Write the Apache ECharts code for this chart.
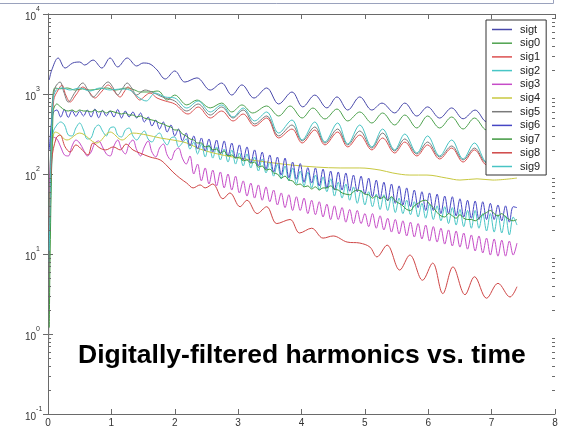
<!DOCTYPE html>
<html><head><meta charset="utf-8">
<script src="https://cdn.jsdelivr.net/npm/echarts@6/dist/echarts.min.js"></script>
<style>html,body{margin:0;padding:0;background:#fff}#c{width:561px;height:431px}</style>
</head><body><div id="c"></div>
<script>
// ---- data ----
const seriesNames = ['sigt','sig0','sig1','sig2','sig3','sig4','sig5','sig6','sig7','sig8','sig9'];
const xTicks = [0,1,2,3,4,5,6,7,8];
const yTicks = [0.1,1,10,100,1000,10000];
const titleText = 'Digitally-filtered harmonics vs. time';

const sigtData = [[0.02,1500],[0.06,2000],[0.16,2820],[0.27,2110],[0.39,2440],[0.5,2510],[0.58,2300],[0.71,2660],[0.85,2110],[0.98,2820],[1.1,2180],[1.25,2820],[1.4,2240],[1.5,2440],[1.61,2370],[1.72,2000],[1.85,1540],[2.0,1940],[2.16,1410],[2.35,1590],[2.56,1120],[2.74,1370],[2.9,970],[3.06,1300],[3.25,890],[3.45,1190],[3.64,750],[3.85,1060],[4.02,690],[4.21,970],[4.4,670],[4.56,920],[4.73,630],[4.92,920],[5.11,630],[5.27,770],[5.47,580],[5.63,770],[5.82,530],[5.99,690],[6.18,500],[6.37,670],[6.55,490],[6.74,630],[6.92,450],[7.1,600],[7.26,420],[7.4,560]];

const sig0Data = [[0.02,40],[0.05,320],[0.08,1000],[0.11,1190],[0.19,1160],[0.3,1190],[0.43,1120],[0.55,1160],[0.66,1120],[0.82,1160],[0.93,1190],[1.06,1120],[1.25,1190],[1.37,1120],[1.45,1060],[1.61,1060],[1.72,1090],[1.77,1060],[1.88,840],[2.0,970],[2.19,730],[2.35,840],[2.56,670],[2.74,770],[2.9,596],[3.06,730],[3.23,579],[3.45,708],[3.64,531],[3.82,708],[4.01,501],[4.18,668],[4.37,487],[4.56,649],[4.73,460],[4.92,596],[5.11,434],[5.28,579],[5.47,410],[5.63,546],[5.82,376],[5.99,531],[6.18,376],[6.37,516],[6.55,365],[6.73,501],[6.92,355],[7.1,473],[7.26,335],[7.4,447]];

const sig1Data = [[0.02,30],[0.05,200],[0.09,841],[0.16,1122],[0.22,1296],[0.28,972],[0.35,794],[0.44,972],[0.55,1223],[0.65,1059],[0.74,891],[0.84,1059],[0.95,1296],[1.04,1090],[1.14,917],[1.2,1059],[1.26,1223],[1.36,1000],[1.45,841],[1.53,944],[1.61,1029],[1.72,891],[1.85,818],[2.0,750],[2.21,562],[2.37,688],[2.56,501],[2.74,613],[2.92,460],[3.08,562],[3.26,398],[3.45,501],[3.64,282],[3.85,365],[4.01,244],[4.21,355],[4.37,231],[4.57,335],[4.73,218],[4.92,307],[5.11,200],[5.28,282],[5.47,183],[5.63,251],[5.82,168],[5.99,231],[6.18,154],[6.37,211],[6.55,141],[6.73,200],[6.92,130],[7.1,183],[7.26,119],[7.4,158]];

const sig4Data = [[0.03,41],[0.06,200],[0.11,335],[0.16,325],[0.3,266],[0.5,325],[0.77,244],[0.98,335],[1.17,266],[1.34,325],[1.56,307],[1.77,282],[1.97,266],[2.19,244],[2.4,205],[2.65,180],[2.92,163],[3.15,152],[3.45,141],[3.82,130],[4.24,122],[4.61,119],[4.92,119],[5.24,112],[5.44,103],[5.71,97],[5.98,97],[6.29,89],[6.5,84],[6.77,87],[7.02,84],[7.4,89]];

const sig5Data = [[0.01,0.8],[0.03,47],[0.06,631],[0.11,1189],[0.19,1413],[0.25,1059],[0.32,794],[0.43,1059],[0.55,1372],[0.63,1122],[0.71,917],[0.82,1122],[0.95,1413],[1.03,1189],[1.1,972],[1.18,1189],[1.25,1372],[1.32,1189],[1.4,972],[1.53,1122],[1.64,1059],[1.77,944],[1.85,891],[2.0,818],[2.19,613],[2.37,750],[2.56,546],[2.74,688],[2.92,501],[3.08,631],[3.26,422],[3.45,531],[3.64,299],[3.85,410],[4.01,259],[4.21,387],[4.37,244],[4.57,365],[4.73,231],[4.92,345],[5.11,211],[5.28,325],[5.47,194],[5.63,274],[5.82,178],[5.99,251],[6.18,163],[6.37,224],[6.55,150],[6.73,211],[6.92,137],[7.1,194],[7.26,126],[7.4,168]];

const sig8Data = [[0.02,20],[0.06,150],[0.13,282],[0.19,307],[0.27,218],[0.35,188],[0.44,231],[0.54,200],[0.63,173],[0.71,244],[0.82,211],[0.91,200],[1.03,218],[1.14,200],[1.23,237],[1.34,200],[1.45,183],[1.61,163],[1.77,150],[1.88,126],[1.97,106],[2.08,89],[2.19,77],[2.29,67],[2.4,73],[2.48,67],[2.6,75],[2.76,49],[2.87,58],[3.03,39],[3.14,47],[3.3,32],[3.45,39],[3.61,24],[3.82,27],[3.97,18.3],[4.16,21],[4.34,15.8],[4.5,16.8],[4.72,14.1],[4.92,13.7],[5.08,12.2],[5.19,9.2],[5.35,12.9],[5.55,6.3],[5.71,9.7],[5.91,4.7],[6.07,7.7],[6.23,3.2],[6.39,6.9],[6.58,3.1],[6.73,5.2],[6.92,2.8],[7.1,4.3],[7.29,2.9],[7.4,3.9]];

const sig9Data = [[0.02,11],[0.05,200],[0.08,841],[0.13,1122],[0.22,1189],[0.35,1122],[0.5,1189],[0.66,1090],[0.82,1189],[0.98,1122],[1.14,1155],[1.29,1122],[1.42,917],[1.55,818],[1.69,1029],[1.85,917],[2.0,891],[2.19,668],[2.37,818],[2.56,596],[2.74,729],[2.92,516],[3.08,668],[3.26,460],[3.45,596],[3.64,325],[3.85,473],[4.01,266],[4.21,447],[4.37,251],[4.57,434],[4.73,237],[4.92,410],[5.11,218],[5.28,365],[5.47,200],[5.63,316],[5.82,183],[5.99,299],[6.18,168],[6.37,266],[6.55,154],[6.73,244],[6.92,141],[7.1,224],[7.26,130],[7.4,188]];

// shared time samples for the fast-oscillating harmonics
const tFast = [0.02,0.08,0.14,0.20,0.26,0.32,0.38,0.44,0.50,0.56,
0.62,0.68,0.74,0.80,0.86,0.92,0.98,1.04,1.10,1.16,
1.22,1.28,1.34,1.40,1.46,1.52,1.58,1.64,1.70,1.76,
1.82,1.88,1.94,2.00,2.06,2.12,2.18,2.24,2.30,2.36,
2.42,2.48,2.54,2.60,2.66,2.72,2.78,2.84,2.90,2.96,
3.02,3.08,3.14,3.20,3.26,3.32,3.38,3.44,3.50,3.56,
3.62,3.68,3.74,3.80,3.86,3.92,3.98,4.04,4.10,4.16,
4.22,4.28,4.34,4.40,4.46,4.52,4.58,4.64,4.70,4.76,
4.82,4.88,4.94,5.00,5.06,5.12,5.18,5.24,5.30,5.36,
5.42,5.48,5.54,5.60,5.66,5.72,5.78,5.84,5.90,5.96,
6.02,6.08,6.14,6.20,6.26,6.32,6.38,6.44,6.50,6.56,
6.62,6.68,6.74,6.80,6.86,6.92,6.98,7.04,7.10,7.16,
7.22,7.28,7.34,7.40];

const sig2Vals = [8,325,410,447,410,307,299,376,434,355,
274,282,376,410,345,299,376,387,307,290,
355,376,299,266,307,345,274,251,299,325,
266,231,282,290,218,244,274,205,251,178,
237,163,231,158,218,150,205,141,200,133,
183,126,178,119,163,109,154,103,141,94,
133,87,126,82,119,75,109,71,106,67,
97,63,92,60,87,53,79,50,75,47,
69,43,63,41,60,39,56,36,55,35,
52,33,50,32,47,31,45,29,43,28,
42,27,40,26,39,24,38,23,36,22,
35,21,35,21,32,19.4,32,18.8,31,18.3,
30,17.3,29,23];

const sig3Vals = [60,290,274,218,173,168,224,266,244,200,
168,188,244,259,218,178,168,224,266,205,
178,237,266,200,168,218,259,188,163,211,
237,173,150,194,211,158,133,168,100,133,
82,119,75,112,71,106,67,100,63,94,
58,82,53,77,50,73,47,69,45,63,
41,58,38,55,35,52,35,50,32,47,
31,45,29,42,27,40,27,38,25,36,
24,35,24,32,22,32,21,30,20,28,
18.8,27,17.8,26,16.8,25,16.3,24,15.4,23,
14.5,22,14.1,21,13.3,20,12.6,19.4,12.2,18.3,
11.5,17.3,10.9,16.8,10.3,15.8,9.7,15.4,9.4,14.9,
9.4,14.5,9.7,13.7];

const sig6Vals = [200,579,631,516,640,510,620,525,613,531,
631,516,649,505,625,531,613,516,640,501,
613,516,596,501,579,447,516,398,473,365,
447,335,410,299,365,259,325,224,299,205,
282,194,274,188,266,178,259,168,244,158,
231,150,218,137,200,126,188,115,173,106,
163,97,158,90,141,86,135,79,120,77,
119,71,115,67,109,63,106,63,103,61,
97,60,94,56,89,52,84,49,79,46,
75,43,71,41,67,39,63,38,60,35,
58,35,56,32,53,32,52,30,49,29,
47,28,46,27,45,27,43,27,41,26,
40,25,39,38];

const sig7Vals = [1.2,596,750,688,631,613,631,596,631,613,
613,596,631,596,613,579,613,596,579,562,
579,546,546,516,531,501,487,473,460,434,
422,398,387,355,355,316,299,274,266,244,
244,218,224,200,205,183,194,168,173,158,
163,146,150,137,141,122,126,112,115,103,
100,89,94,84,82,73,75,69,71,65,
69,63,67,67,71,65,63,58,56,55,
60,63,61,56,55,50,53,49,52,47,
52,46,43,40,36,35,40,43,46,47,
42,38,33,30,29,32,30,28,31,28,
27,27,26,28,31,33,35,32,30,32,
29,27,26,27];

// ---- styles ----
const colors = ['#4848aa','#4ea24e','#dc5050','#48c6c6','#c64cc8','#c8c840','#7a7a7a','#4646c4','#3f983f','#cf4646','#48c4c4'];

const seriesData = [
  sigtData, sig0Data, sig1Data,
  tFast.map((t,i)=>[t,sig2Vals[i]]),
  tFast.map((t,i)=>[t,sig3Vals[i]]),
  sig4Data, sig5Data,
  tFast.map((t,i)=>[t,sig6Vals[i]]),
  tFast.map((t,i)=>[t,sig7Vals[i]]),
  sig8Data, sig9Data
];

const FONT = 'Liberation Sans';
const chart = echarts.init(document.getElementById('c'), null, {renderer:'canvas'});
const axisColor = '#6a6a6a';

const option = {
  animation: false,
  backgroundColor: '#fff',
  grid: {left: 48, right: 6, top: 14, bottom: 17, containLabel: false},
  legend: {
    orient: 'vertical', left: 486, top: 20,
    padding: [4, 6, 3, 6], itemGap: 2.7, itemWidth: 20, itemHeight: 1.5,
    icon: 'rect',
    backgroundColor: '#fff', borderColor: '#333', borderWidth: 1, borderRadius: 0,
    textStyle: {fontSize: 11, fontFamily: FONT, color: '#222', lineHeight: 11, padding: [0,0,0,3]},
    data: seriesNames
  },
  xAxis: [
    {type: 'value', min: xTicks[0], max: xTicks[xTicks.length-1], interval: 1, position: 'bottom',
     axisLine: {show: true, lineStyle: {color: axisColor, width: 1}},
     axisTick: {show: true, inside: true, length: 5, lineStyle: {color: axisColor}},
     axisLabel: {fontSize: 10, fontFamily: FONT, color: '#333', margin: 4},
     splitLine: {show: false}},
    {type: 'value', min: xTicks[0], max: xTicks[xTicks.length-1], interval: 1, position: 'top',
     axisLine: {show: true, lineStyle: {color: axisColor, width: 1}},
     axisTick: {show: true, inside: true, length: 5, lineStyle: {color: axisColor}},
     axisLabel: {show: false}, splitLine: {show: false}}
  ],
  yAxis: [
    {type: 'log', logBase: 10, min: yTicks[0], max: yTicks[yTicks.length-1], position: 'left',
     axisLine: {show: true, lineStyle: {color: axisColor, width: 1}},
     axisTick: {show: true, inside: true, length: 5, lineStyle: {color: axisColor}},
     axisLabel: {
       align: 'left', margin: 23,
       formatter: v => '{b|10}{s|' + Math.round(Math.log10(v)) + '}',
       rich: {
         b: {fontSize: 10, fontFamily: FONT, color: '#333', lineHeight: 16, verticalAlign: 'bottom'},
         s: {fontSize: 7, fontFamily: FONT, color: '#333', verticalAlign: 'top'}
       }
     },
     splitLine: {show: false}},
    {type: 'log', logBase: 10, min: yTicks[0], max: yTicks[yTicks.length-1], position: 'right',
     axisLine: {show: true, lineStyle: {color: axisColor, width: 1}},
     axisTick: {show: true, inside: true, length: 5, lineStyle: {color: axisColor}},
     axisLabel: {show: false}, splitLine: {show: false}}
  ],
  series: seriesNames.map((name, k) => ({
    name, type: 'line', xAxisIndex: 0, yAxisIndex: 0,
    data: seriesData[k], showSymbol: false, symbol: 'none',
    smooth: 0.35, color: colors[k],
    lineStyle: {width: 1, color: colors[k]},
    emphasis: {disabled: true}, z: 2
  }))
};
chart.setOption(option);

// log minor ticks (2..9 per decade) placed through the axis scale
const g = [];
const leftX = chart.convertToPixel({xAxisIndex: 0}, xTicks[0]);
const rightX = chart.convertToPixel({xAxisIndex: 0}, xTicks[xTicks.length-1]);
for (let d = -1; d < 4; d++) {
  for (let k = 2; k <= 9; k++) {
    const y = Math.round(chart.convertToPixel({yAxisIndex: 0}, k * Math.pow(10, d))) + 0.5;
    g.push({type: 'line', shape: {x1: leftX, y1: y, x2: leftX + 3, y2: y}, style: {stroke: axisColor, lineWidth: 1}, silent: true, z: 10});
    g.push({type: 'line', shape: {x1: rightX, y1: y, x2: rightX - 3, y2: y}, style: {stroke: axisColor, lineWidth: 1}, silent: true, z: 10});
  }
}
// outer frame line at the top of the picture
g.push({type: 'polyline', shape: {points: [[0,3.5],[553.5,3.5],[553.5,0]]}, style: {stroke: '#9aa2bd', lineWidth: 1, fill: null}, silent: true});
// caption
g.push({type: 'text', x: 78, y: 356, silent: true, z: 20,
  style: {text: titleText, fontSize: 26.5, fontWeight: 'bold', fontFamily: FONT, fill: '#000', align: 'left', verticalAlign: 'middle'}});
chart.setOption({graphic: g});
</script></body></html>
